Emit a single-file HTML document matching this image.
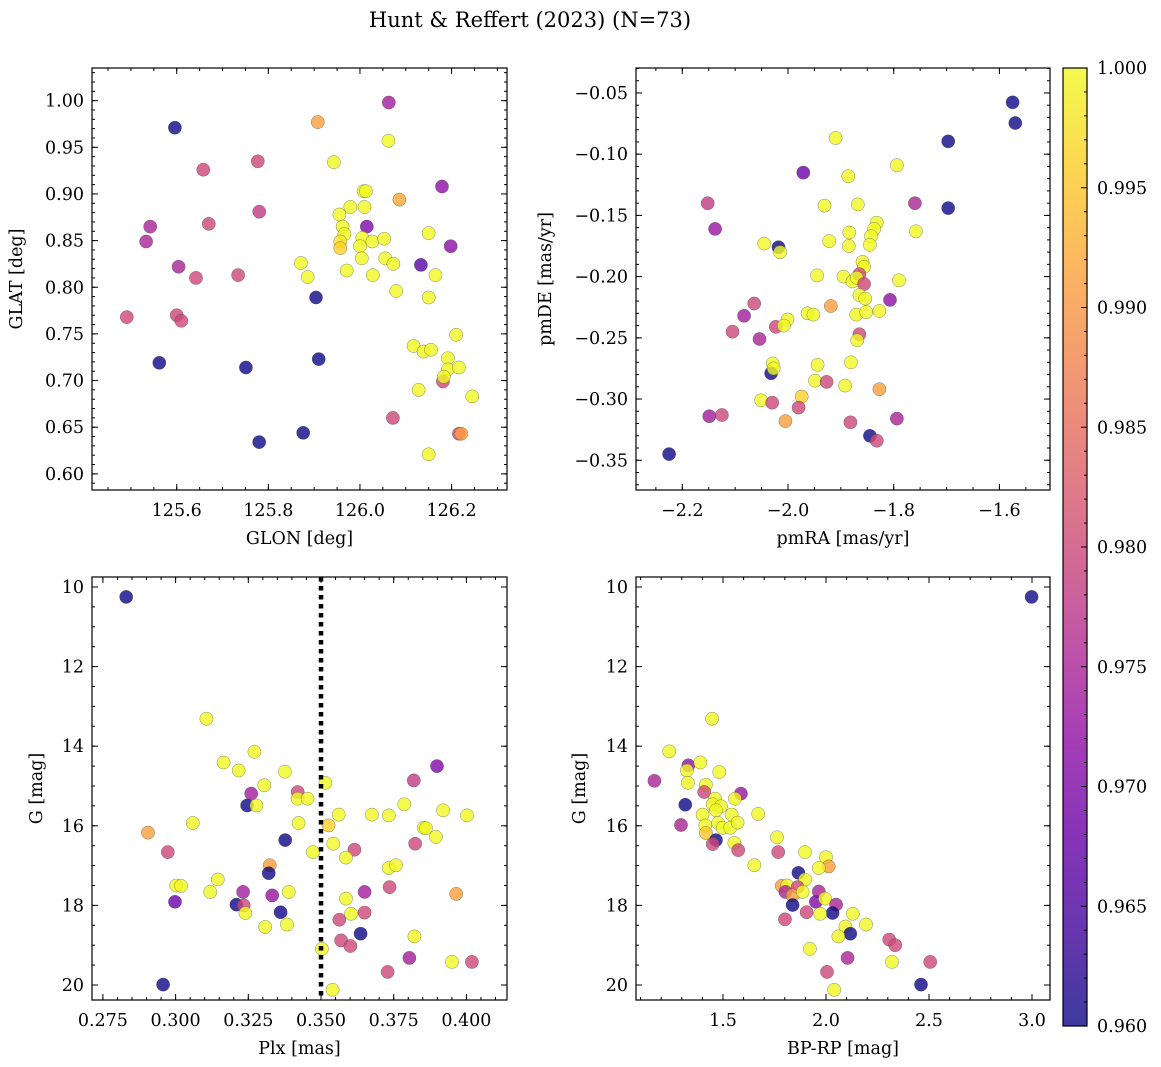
<!DOCTYPE html>
<html><head><meta charset="utf-8"><title>Hunt & Reffert (2023)</title>
<style>
html,body{margin:0;padding:0;background:#fff;}
svg{display:block;font-family:"DejaVu Serif","Liberation Serif",serif;}
</style></head>
<body>
<svg id="fig" width="1161" height="1067" viewBox="0 0 1161 1067" xmlns="http://www.w3.org/2000/svg">
<text x="530" y="27" font-size="21" text-anchor="middle">Hunt &amp; Reffert (2023) (N=73)</text>
</svg>
<script>
// ---------- Panel A: GLON vs GLAT ----------
const glon = [125.596,126.063,125.908,126.062,125.943,125.777,125.658,126.179,126.008,126.013,126.086,125.780,125.979,126.010,125.955,125.542,125.670,126.015,125.962,126.150,125.533,125.966,125.957,125.957,126.005,126.027,126.053,126.000,126.198,126.004,126.055,125.604,125.871,126.073,126.133,125.642,125.734,125.886,125.971,126.028,126.165,125.904,126.079,126.150,125.491,125.600,125.610,126.210,126.117,126.139,126.155,125.910,126.192,125.562,125.751,126.192,126.216,126.181,126.183,126.128,126.245,126.072,126.216,126.221,125.876,125.780,126.150];
const glat = [0.971,0.998,0.977,0.957,0.934,0.935,0.926,0.908,0.903,0.903,0.894,0.881,0.886,0.886,0.878,0.865,0.868,0.865,0.865,0.858,0.849,0.857,0.849,0.842,0.853,0.849,0.852,0.844,0.844,0.831,0.831,0.822,0.826,0.825,0.824,0.810,0.813,0.811,0.818,0.813,0.813,0.789,0.796,0.789,0.768,0.770,0.764,0.749,0.737,0.731,0.733,0.723,0.724,0.719,0.714,0.712,0.714,0.699,0.704,0.690,0.683,0.660,0.643,0.643,0.644,0.634,0.621];
const probA = [0.960,0.974,0.991,1,1,0.980,0.980,0.972,1,1,0.992,0.978,1,1,1,0.975,0.980,0.970,1,1,0.975,1,0.998,0.996,1,1,1,1,0.972,1,1,0.975,1,1,0.966,0.980,0.980,1,1,1,1,0.960,1,1,0.980,0.980,0.980,1,1,1,1,0.960,1,0.960,0.960,1,1,0.980,1,1,1,0.980,0.980,0.991,0.960,0.960,1];
const glonTicks = [125.6,125.8,126.0,126.2];
const glatTicks = [0.60,0.65,0.70,0.75,0.80,0.85,0.90,0.95,1.00];

// ---------- Panel B: pmRA vs pmDE ----------
const pmra = [-1.575,-1.570,-1.697,-1.910,-1.794,-1.971,-1.886,-2.152,-1.760,-1.931,-1.868,-1.697,-2.138,-1.832,-1.837,-1.758,-1.843,-1.884,-2.045,-2.018,-2.015,-1.922,-1.885,-1.845,-1.859,-1.856,-1.945,-1.895,-1.878,-1.865,-1.870,-1.856,-1.790,-1.865,-1.854,-1.807,-2.064,-1.919,-1.827,-2.083,-1.963,-1.952,-1.871,-1.852,-2.001,-2.023,-2.008,-2.105,-2.054,-1.865,-1.869,-2.029,-2.032,-2.027,-1.944,-1.881,-1.949,-1.927,-1.892,-1.827,-2.051,-2.030,-1.974,-1.980,-2.149,-2.125,-2.005,-1.882,-1.794,-1.845,-1.832,-2.225];
const pmde = [-0.0576,-0.0745,-0.0895,-0.0868,-0.109,-0.115,-0.118,-0.140,-0.140,-0.142,-0.141,-0.144,-0.161,-0.156,-0.161,-0.163,-0.167,-0.164,-0.173,-0.176,-0.180,-0.171,-0.175,-0.174,-0.188,-0.192,-0.199,-0.200,-0.204,-0.198,-0.201,-0.206,-0.203,-0.215,-0.218,-0.219,-0.222,-0.224,-0.228,-0.232,-0.230,-0.231,-0.231,-0.229,-0.235,-0.241,-0.240,-0.245,-0.251,-0.247,-0.252,-0.271,-0.279,-0.275,-0.272,-0.270,-0.285,-0.286,-0.289,-0.292,-0.301,-0.303,-0.298,-0.307,-0.314,-0.313,-0.318,-0.319,-0.316,-0.330,-0.334,-0.345];
const probB = [0.960,0.960,0.960,1,1,0.968,1,0.978,0.975,1,1,0.960,0.973,1,1,1,1,1,1,0.960,1,1,1,1,1,1,1,1,1,0.980,1,0.980,1,1,1,0.972,0.980,0.991,1,0.974,1,1,1,1,1,0.980,1,0.980,0.975,0.980,1,1,0.960,1,1,1,1,0.980,1,0.991,1,0.980,0.996,0.980,0.974,0.980,0.991,0.980,0.975,0.960,0.980,0.960];
const pmraTicks = [-2.2,-2.0,-1.8,-1.6];
const pmdeTicks = [-0.35,-0.30,-0.25,-0.20,-0.15,-0.10,-0.05];

// ---------- Panel C: Plx vs G ----------
const plx = [0.2830,0.2957,0.3106,0.3271,0.3165,0.3217,0.3376,0.3899,0.3819,0.3515,0.3305,0.3420,0.3260,0.3420,0.3454,0.3246,0.3278,0.3786,0.3920,0.3561,0.3675,0.3733,0.4002,0.3059,0.3423,0.3526,0.3853,0.3861,0.2905,0.3377,0.3542,0.3824,0.3895,0.2973,0.3472,0.3615,0.3586,0.3324,0.3320,0.3733,0.3758,0.3145,0.3002,0.3019,0.3119,0.3232,0.3389,0.3650,0.3736,0.3965,0.3332,0.2998,0.3586,0.3209,0.3234,0.3240,0.3361,0.3603,0.3650,0.3563,0.3308,0.3383,0.3636,0.3821,0.3503,0.3569,0.3601,0.3804,0.3950,0.4019,0.3729,0.3540];
const gC = [10.25,19.99,13.31,14.14,14.41,14.61,14.64,14.50,14.86,14.92,14.98,15.15,15.19,15.32,15.32,15.49,15.49,15.46,15.61,15.72,15.72,15.74,15.74,15.93,15.93,15.99,16.05,16.06,16.17,16.36,16.45,16.45,16.28,16.66,16.66,16.60,16.80,16.99,17.19,17.06,16.99,17.35,17.50,17.51,17.66,17.66,17.66,17.66,17.54,17.71,17.75,17.91,17.83,17.98,18.00,18.19,18.17,18.21,18.18,18.36,18.54,18.48,18.71,18.78,19.09,18.88,19.02,19.32,19.42,19.42,19.67,20.12];
const probC = [0.960,0.960,1,1,1,1,1,0.970,0.978,1,1,0.980,0.974,1,1,0.960,1,1,1,1,1,1,1,1,1,0.996,1,1,0.991,0.960,1,0.980,1,0.980,1,0.980,1,0.991,0.960,1,1,1,1,1,1,0.974,1,0.974,0.980,0.991,0.973,0.968,1,0.960,0.980,1,0.960,1,0.980,0.980,1,1,0.960,1,1,0.980,0.980,0.974,1,0.980,0.980,1];
const plxTicks = [0.275,0.300,0.325,0.350,0.375,0.400];
const gTicks = [10,12,14,16,18,20];
const plxCut = [0.350];

// ---------- Panel D: BP-RP vs G ----------
const bprp = [2.998,1.447,1.239,1.332,1.325,1.390,1.482,1.329,1.167,1.417,1.409,1.587,1.558,1.317,1.461,1.450,1.490,1.466,1.401,1.542,1.671,1.476,1.414,1.498,1.535,1.571,1.296,1.417,1.466,1.450,1.555,1.574,1.762,1.768,1.652,1.898,2.000,2.013,1.965,1.866,1.898,1.785,1.811,1.803,1.862,1.838,1.887,1.965,1.951,1.995,2.049,1.838,2.032,1.906,1.972,2.130,1.801,2.194,2.094,2.118,2.060,2.307,2.336,1.922,2.105,2.320,2.506,2.005,2.461,2.040];
const gD = [10.25,13.31,14.13,14.48,14.61,14.41,14.65,14.92,14.87,14.97,15.15,15.19,15.32,15.47,15.32,15.46,15.51,15.61,15.72,15.72,15.70,15.93,15.99,16.05,16.05,15.92,15.98,16.18,16.36,16.46,16.43,16.61,16.29,16.66,16.99,16.66,16.79,17.02,17.06,17.18,17.35,17.51,17.50,17.66,17.54,17.75,17.66,17.65,17.91,17.83,17.98,17.99,18.19,18.17,18.21,18.21,18.35,18.48,18.53,18.71,18.78,18.86,19.00,19.09,19.32,19.42,19.42,19.67,19.99,20.12];
const probD = [0.960,1,1,0.972,1,1,1,1,0.975,1,0.980,0.973,1,0.960,1,1,1,1,1,1,1,1,1,1,1,1,0.975,0.995,0.960,0.980,1,0.980,1,0.980,1,1,1,0.991,1,0.960,1,0.991,1,0.975,0.980,0.991,1,0.975,0.970,1,0.975,0.960,0.960,0.980,1,1,0.980,1,1,0.960,1,0.980,0.980,1,0.975,1,0.980,0.980,0.960,1];
const bprpTicks = [1.5,2.0,2.5,3.0];

// ---------- Colorbar ----------
const cbarTicks = [0.960,0.965,0.970,0.975,0.980,0.985,0.990,0.995,1.000];
const cbarRange = [0.960,1.000];

const NS = "http://www.w3.org/2000/svg";
const svg = document.getElementById('fig');
function mk(tag, attrs, parent){
  const e = document.createElementNS(NS, tag);
  for (const k in attrs) e.setAttribute(k, attrs[k]);
  (parent||svg).appendChild(e);
  return e;
}
const plasmaStops = ["#0d0887","#41049d","#6a00a8","#8f0da4","#b12a90","#cc4778","#e16462","#f2844b","#fca636","#fcce25","#f0f921"];
function hex2rgb(h){return [parseInt(h.substr(1,2),16),parseInt(h.substr(3,2),16),parseInt(h.substr(5,2),16)];}
function plasma(t){
  t=Math.max(0,Math.min(1,t));
  const f=t*10, i=Math.min(9,Math.floor(f)), r=f-i;
  const a=hex2rgb(plasmaStops[i]), b=hex2rgb(plasmaStops[i+1]);
  return "rgb("+a.map((v,k)=>Math.round(v+(b[k]-v)*r)).join(",")+")";
}
function pcolor(p){return plasma((p-cbarRange[0])/(cbarRange[1]-cbarRange[0]));}

function panel(cfg){
  const g = mk('g', {});
  
  
  const sx = v => cfg.x0 + (v-cfg.xd[0])/(cfg.xd[1]-cfg.xd[0])*(cfg.x1-cfg.x0);
  const sy = v => cfg.y0 + (v-cfg.yd[0])/(cfg.yd[1]-cfg.yd[0])*(cfg.y1-cfg.y0);
  const W=cfg.x1-cfg.x0, H=cfg.y1-cfg.y0;
  const pg = mk('g', {}, g);
  
  
  for (let i=0;i<cfg.xs.length;i++){
    const c = mk('circle', {cx:sx(cfg.xs[i]).toFixed(1), cy:sy(cfg.ys[i]).toFixed(1), r:6.6, fill:pcolor(cfg.ps[i]), 'fill-opacity':0.8, stroke:'rgba(60,60,60,0.6)', 'stroke-width':0.5}, pg);
    
    
  }
  if (cfg.vline){
    for (const v of cfg.vline){
      const l = mk('line', {x1:sx(v), x2:sx(v), y1:cfg.y0, y2:cfg.y1, stroke:'#000', 'stroke-width':4.5, 'stroke-dasharray':'4.5 4.5'}, g);
      
      
    }
  }
  const fr = mk('rect', {x:cfg.x0, y:Math.min(cfg.y0,cfg.y1), width:W, height:Math.abs(H), fill:'none', stroke:'#000', 'stroke-width':1.2}, g);
  
  
  const top=Math.min(cfg.y0,cfg.y1), bot=Math.max(cfg.y0,cfg.y1);
  const tk = mk('g', {stroke:'#000','stroke-width':1}, g);
  
  
  const xlo=Math.min(cfg.xd[0],cfg.xd[1]), xhi=Math.max(cfg.xd[0],cfg.xd[1]);
  for (let k=Math.ceil(xlo/cfg.xminor-1e-6); k*cfg.xminor<=xhi+1e-9; k++){
    const X=sx(k*cfg.xminor);
    mk('line',{x1:X,x2:X,y1:bot,y2:bot-3},tk); mk('line',{x1:X,x2:X,y1:top,y2:top+3},tk);
  }
  const ylo=Math.min(cfg.yd[0],cfg.yd[1]), yhi=Math.max(cfg.yd[0],cfg.yd[1]);
  for (let k=Math.ceil(ylo/cfg.yminor-1e-6); k*cfg.yminor<=yhi+1e-9; k++){
    const Y=sy(k*cfg.yminor);
    mk('line',{x1:cfg.x0,x2:cfg.x0+3,y1:Y,y2:Y},tk); mk('line',{x1:cfg.x1,x2:cfg.x1-3,y1:Y,y2:Y},tk);
  }
  for (const v of cfg.xticks){
    const X=sx(v);
    mk('line',{x1:X,x2:X,y1:bot,y2:bot-6},tk); mk('line',{x1:X,x2:X,y1:top,y2:top+6},tk);
    const t = mk('text',{x:X,y:bot+26,'font-size':17.5,'text-anchor':'middle'},g);
    
    
    t.textContent = v.toFixed(cfg.xdec).replace('-','\u2212');
  }
  for (const v of cfg.yticks){
    const Y=sy(v);
    mk('line',{x1:cfg.x0,x2:cfg.x0+6,y1:Y,y2:Y},tk); mk('line',{x1:cfg.x1,x2:cfg.x1-6,y1:Y,y2:Y},tk);
    const t = mk('text',{x:cfg.x0-8,y:Y+6,'font-size':17.5,'text-anchor':'end'},g);
    
    
    t.textContent = v.toFixed(cfg.ydec).replace('-','\u2212');
  }
  const xl = mk('text',{x:(cfg.x0+cfg.x1)/2,y:bot+54,'font-size':17.5,'text-anchor':'middle'},g);
  
  
  xl.textContent = cfg.xlabel;
  const ly=(top+bot)/2;
  const yl = mk('text',{x:cfg.ylx,y:ly,'font-size':17.5,'text-anchor':'middle',transform:'rotate(-90 '+cfg.ylx+' '+ly+')'},g);
  
  
  yl.textContent = cfg.ylabel;
}

panel({name:'glon-glat-panel',x0:92,x1:507,y0:490,y1:68,xd:[125.415,126.321],yd:[0.5827,1.035],xs:glon,ys:glat,ps:probA,
  xticks:glonTicks,yticks:glatTicks,xminor:0.05,yminor:0.01,xdec:1,ydec:2,xlabel:'GLON [deg]',ylabel:'GLAT [deg]',ylx:22});
panel({name:'pmra-pmde-panel',x0:636,x1:1050,y0:490,y1:68,xd:[-2.2876,-1.5043],yd:[-0.3743,-0.0296],xs:pmra,ys:pmde,ps:probB,
  xticks:pmraTicks,yticks:pmdeTicks,xminor:0.05,yminor:0.01,xdec:1,ydec:2,xlabel:'pmRA [mas/yr]',ylabel:'pmDE [mas/yr]',ylx:551});
panel({name:'plx-g-panel',x0:92,x1:507,y0:577,y1:1000,xd:[0.27125,0.41396],yd:[9.749,20.377],xs:plx,ys:gC,ps:probC,vline:plxCut,
  xticks:plxTicks,yticks:gTicks,xminor:0.005,yminor:0.5,xdec:3,ydec:0,xlabel:'Plx [mas]',ylabel:'G [mag]',ylx:42});
panel({name:'bprp-g-panel',x0:636,x1:1050,y0:577,y1:1000,xd:[1.0777,3.0874],yd:[9.749,20.377],xs:bprp,ys:gD,ps:probD,
  xticks:bprpTicks,yticks:gTicks,xminor:0.1,yminor:0.5,xdec:1,ydec:0,xlabel:'BP-RP [mag]',ylabel:'G [mag]',ylx:585});

(function(){
  const cx0=1063, cx1=1087, cy0=68, cy1=1026;
  const defs = mk('defs',{});
  const grad = mk('linearGradient',{id:'plasmaGrad',x1:0,y1:1,x2:0,y2:0},defs);
  for (let i=0;i<=20;i++){ mk('stop',{offset:(i/20),'stop-color':plasma(i/20)},grad); }
  const g = mk('g',{});
  
  
  const r = mk('rect',{x:cx0,y:cy0,width:cx1-cx0,height:cy1-cy0,fill:'url(#plasmaGrad)','fill-opacity':0.8,stroke:'#000','stroke-width':1.2},g);
  
  
  const sy = v => cy1 - (v-cbarRange[0])/(cbarRange[1]-cbarRange[0])*(cy1-cy0);
  for (let k=0;k<=40;k++){
    const v=cbarRange[0]+k*0.001, Y=sy(v);
    const major = (k%5===0);
    mk('line',{x1:cx1,x2:cx1-(major?6:3),y1:Y,y2:Y,stroke:'#000','stroke-width':1},g);
  }
  for (const v of cbarTicks){
    const t = mk('text',{x:cx1+10,y:sy(v)+6,'font-size':17.5},g);
    
    
    t.textContent = v.toFixed(3);
  }
})();
</script>
</body></html>
